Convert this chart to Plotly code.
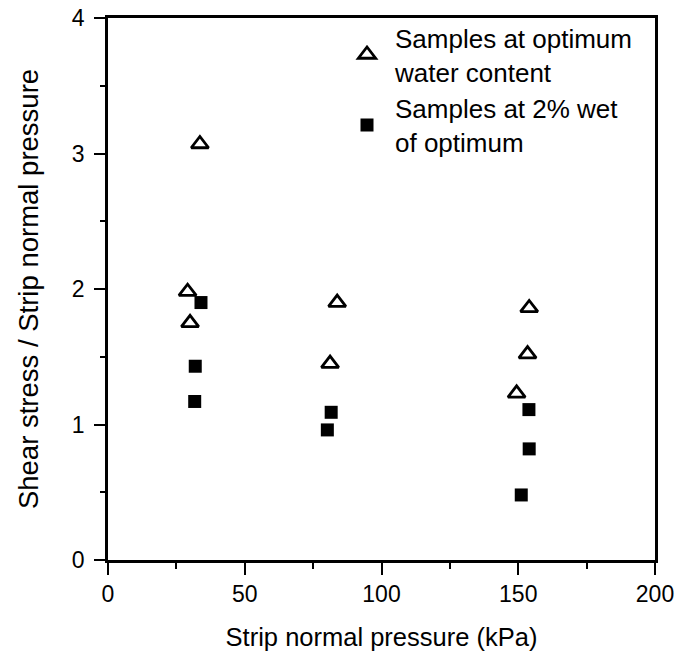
import plotly.graph_objects as go

# Samples at optimum water content (open triangles)
opt_x = [33.6, 29.1, 30.0, 83.8, 81.2, 154.0, 153.4, 149.4]
opt_y = [3.07, 1.98, 1.75, 1.90, 1.45, 1.86, 1.52, 1.23]

# Samples at 2% wet of optimum (filled squares)
wet_x = [34.0, 31.9, 31.7, 81.6, 80.2, 153.9, 154.0, 151.1]
wet_y = [1.90, 1.43, 1.17, 1.09, 0.96, 1.11, 0.82, 0.48]

x_ticks = [0, 50, 100, 150, 200]
y_ticks = [0, 1, 2, 3, 4]

FONT = "Liberation Sans, Arial, sans-serif"

fig = go.Figure()
fig.add_trace(go.Scatter(
    x=opt_x, y=opt_y, mode="markers",
    name="Samples at optimum<br>water content",
    marker=dict(symbol="triangle-up-open", size=15, color="black",
                line=dict(width=2.8, color="black")),
))
fig.add_trace(go.Scatter(
    x=wet_x, y=wet_y, mode="markers",
    name="Samples at 2% wet<br>of optimum",
    marker=dict(symbol="square", size=13, color="black",
                line=dict(width=0)),
))

fig.update_layout(
    width=678, height=658,
    margin=dict(l=108, r=23, t=18, b=98, autoexpand=False),
    paper_bgcolor="white", plot_bgcolor="white",
    font=dict(family=FONT, color="black", size=23),
    showlegend=True,
    legend=dict(
        x=(366 - 108 - 27) / 547, xanchor="left",
        y=1.007, yanchor="top",
        bgcolor="rgba(0,0,0,0)", borderwidth=0,
        font=dict(size=26, family=FONT, color="black"),
        tracegroupgap=0, itemwidth=46,
    ),
    xaxis=dict(
        range=[0, 200], tickvals=x_ticks, ticktext=[str(v) for v in x_ticks],
        showgrid=False, zeroline=False,
        showline=True, linecolor="black", linewidth=2.5, mirror=True,
        ticks="outside", ticklen=12, tickwidth=2.2, tickcolor="black",
        minor=dict(dtick=25, ticks="outside", ticklen=6, tickwidth=2.2,
                   tickcolor="black", showgrid=False),
        tickfont=dict(size=23),
        title=dict(text="Strip normal pressure (kPa)", font=dict(size=25.5),
                   standoff=22),
        automargin=False,
    ),
    yaxis=dict(
        range=[0, 4], tickvals=y_ticks, ticktext=[str(v) for v in y_ticks],
        showgrid=False, zeroline=False,
        showline=True, linecolor="black", linewidth=2.5, mirror=True,
        ticks="outside", ticklen=11, tickwidth=2.2, tickcolor="black",
        minor=dict(dtick=0.5, ticks="outside", ticklen=5, tickwidth=2.2,
                   tickcolor="black", showgrid=False),
        tickfont=dict(size=23), ticklabelstandoff=5,
        title=dict(text="Shear stress / Strip normal pressure",
                   font=dict(size=27.5), standoff=26),
        automargin=False,
    ),
)

fig.write_html("out.html")
